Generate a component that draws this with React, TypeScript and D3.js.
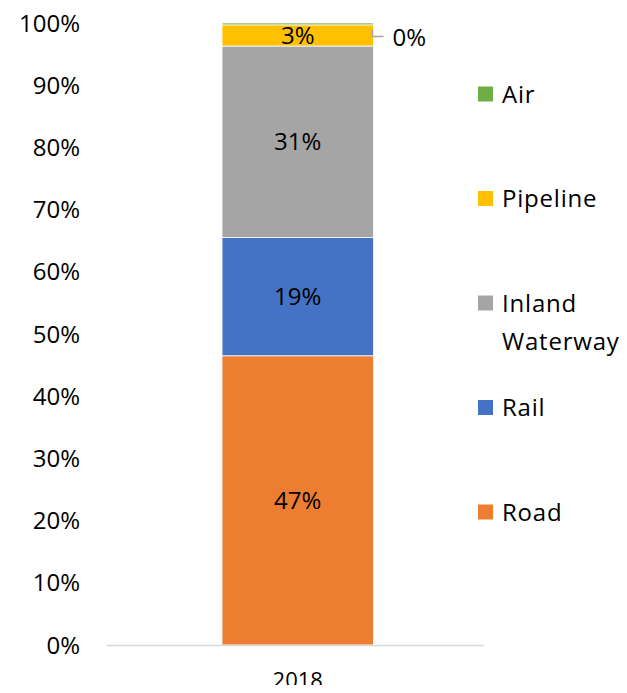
import React from "react";
import * as d3 from "d3";

const categories = ["2018"];
const seriesNames = ["Road", "Rail", "Inland Waterway", "Pipeline", "Air"];
const seriesValues = [46.5, 19.0, 30.8, 3.4, 0.3];
const seriesColors = ["#ED7D31", "#4472C4", "#A5A5A5", "#FFC000", "#70AD47"];
const yTicks = [0, 10, 20, 30, 40, 50, 60, 70, 80, 90, 100];
const legendOrder = ["Air", "Pipeline", "Inland Waterway", "Rail", "Road"];

const W = 627;
const H = 693;
const FONT = "'Open Sans', sans-serif";

export default function App() {
  const y = d3.scaleLinear().domain([0, 100]).range([645, 23]);
  const x = d3.scaleBand().domain(categories).range([107, 484]).paddingInner(0.597).paddingOuter(0.3).align(0.51);
  const stackData = [Object.fromEntries(seriesNames.map((n, i) => [n, seriesValues[i]]))];
  const stacked = d3.stack<any>().keys(seriesNames)(stackData as any);
  const bx = x(categories[0])!;
  const bw = x.bandwidth();
  const legendY = d3.scalePoint().domain(legendOrder).range([94, 512]);

  return (
    <div style={{ margin: -8 }}>
      <svg width={W} height={H} style={{ display: "block", fontFamily: FONT }}>
        <rect width={W} height={H} fill="#fff" />
        {yTicks.map((t) => (
          <text key={t} x={80} y={y(t)} dy="0.36em" textAnchor="end" fontSize={24} fill="#000">
            {t}%
          </text>
        ))}
        {stacked.map((s, i) => {
          const d = s[0];
          const y0 = y(d[0]);
          const y1 = y(d[1]);
          return (
            <rect key={s.key} x={bx} y={y1} width={bw} height={y0 - y1} fill={seriesColors[i]} stroke="#fff" strokeWidth={0.8} />
          );
        })}
        <line x1={107} x2={484} y1={645.5} y2={645.5} stroke="#D9D9D9" strokeWidth={1.5} />
        {stacked.map((s, i) => {
          const d = s[0];
          const v = seriesValues[i];
          const label = Math.round(v) + "%";
          const mid = (y(d[0]) + y(d[1])) / 2;
          if (v < 1) {
            const ly = y(d[1]) + 13.5;
            return (
              <g key={s.key}>
                <polyline
                  points={`${bx + bw - 1},${y(d[1]) + 7} ${bx + bw - 1},${ly} ${bx + bw + 10},${ly}`}
                  fill="none"
                  stroke="#A5A5A5"
                  strokeWidth={1.5}
                />
                <text x={bx + bw + 19} y={ly + 1} dy="0.36em" fontSize={24} fill="#000">
                  {label}
                </text>
              </g>
            );
          }
          return (
            <text key={s.key} x={bx + bw / 2} y={mid} dy="0.36em" textAnchor="middle" fontSize={24} fill="#000">
              {label}
            </text>
          );
        })}
        {categories.map((c) => (
          <text key={c} x={x(c)! + bw / 2} y={680} dy="0.36em" textAnchor="middle" fontSize={22} fill="#000">
            {c}
          </text>
        ))}
        {legendOrder.map((name) => {
          const i = seriesNames.indexOf(name);
          const cy = legendY(name)!;
          const words = name.split(" ");
          return (
            <g key={name}>
              <rect x={478} y={cy - 7.5} width={15} height={15} fill={seriesColors[i]} />
              {words.map((w, k) => (
                <text key={k} x={502} y={cy + k * 38} dy="0.36em" fontSize={24} letterSpacing={0.8} fill="#000">
                  {w}
                </text>
              ))}
            </g>
          );
        })}
      </svg>
    </div>
  );
}
